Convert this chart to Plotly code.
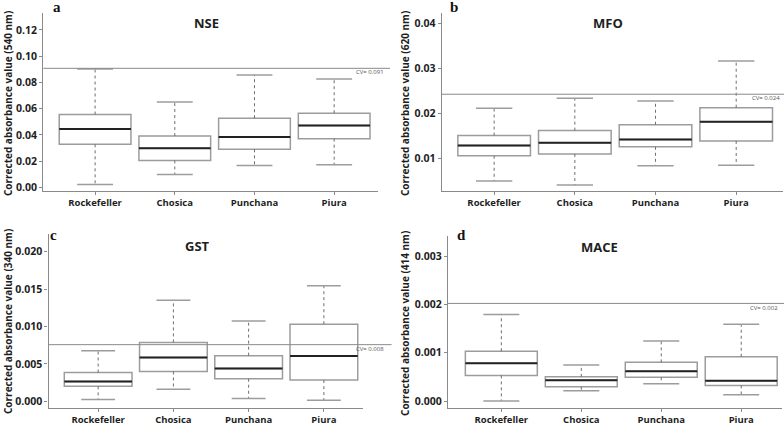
import plotly.graph_objects as go

# ---------------- data ----------------
categories = ["Rockefeller", "Chosica", "Punchana", "Piura"]

nse_lower = [0.0023, 0.0100, 0.0168, 0.0174]
nse_q1 = [0.0329, 0.0206, 0.0291, 0.0372]
nse_median = [0.0445, 0.0299, 0.0385, 0.0472]
nse_q3 = [0.0556, 0.0392, 0.0528, 0.0566]
nse_upper = [0.0903, 0.0651, 0.0857, 0.0827]
nse_cv = 0.0908
nse_ticks = [0.00, 0.02, 0.04, 0.06, 0.08, 0.10, 0.12]

mfo_lower = [0.0050, 0.0041, 0.0084, 0.0085]
mfo_q1 = [0.0106, 0.0110, 0.0126, 0.0139]
mfo_median = [0.0129, 0.0135, 0.0142, 0.0182]
mfo_q3 = [0.0151, 0.0162, 0.0175, 0.0213]
mfo_upper = [0.0212, 0.0234, 0.0228, 0.0317]
mfo_cv = 0.0243
mfo_ticks = [0.01, 0.02, 0.03, 0.04]

gst_lower = [0.00022, 0.00159, 0.00035, 0.00013]
gst_q1 = [0.00199, 0.00398, 0.00301, 0.00283]
gst_median = [0.00265, 0.00584, 0.00438, 0.00606]
gst_q3 = [0.00385, 0.00787, 0.00610, 0.01031]
gst_upper = [0.00677, 0.01350, 0.01075, 0.01544]
gst_cv = 0.00757
gst_ticks = [0.000, 0.005, 0.010, 0.015, 0.020]

mace_lower = [0.0, 0.000213, 0.000356, 0.000131]
mace_q1 = [0.00053, 0.000295, 0.00049, 0.000322]
mace_median = [0.00078, 0.00043, 0.000615, 0.000418]
mace_q3 = [0.00103, 0.00050, 0.00080, 0.000916]
mace_upper = [0.00179, 0.000746, 0.00124, 0.00159]
mace_cv = 0.00202
mace_ticks = [0.000, 0.001, 0.002, 0.003]

W, H = 784, 435


def px(x):
    return x / W


def py(y):
    return 1 - y / H


panels = [
    dict(s="", title="NSE", letter="a", nm="540",
         lower=nse_lower, q1=nse_q1, med=nse_median, q3=nse_q3, upper=nse_upper,
         cv=nse_cv, ticks=nse_ticks, fmt=".2f",
         xdom=[px(43.3), px(378)], ydom=[py(192.3), py(13.3)],
         xr=[-0.65, 3.55], yr=[-0.0023, 0.1328],
         title_xy=(207, 23), letter_xy=(57, 7), ytitle_xy=(8, 105),
         cv_xy=(386, 73), cv_x1=1.036),
    dict(s="2", title="MFO", letter="b", nm="620",
         lower=mfo_lower, q1=mfo_q1, med=mfo_median, q3=mfo_q3, upper=mfo_upper,
         cv=mfo_cv, ticks=mfo_ticks, fmt=".2f",
         xdom=[px(441.7), px(783)], ydom=[py(192.7), py(13)],
         xr=[-0.65, 3.58], yr=[0.00278, 0.0424],
         title_xy=(608, 23), letter_xy=(454, 7), ytitle_xy=(405, 105),
         cv_xy=(782, 99), cv_x1=1.003),
    dict(s="3", title="GST", letter="c", nm="340",
         lower=gst_lower, q1=gst_q1, med=gst_median, q3=gst_q3, upper=gst_upper,
         cv=gst_cv, ticks=gst_ticks, fmt=".3f",
         xdom=[px(48.5), px(363)], ydom=[py(411.3), py(236)],
         xr=[-0.66, 3.52], yr=[-0.00084, 0.0224],
         title_xy=(197.5, 248), letter_xy=(54, 237), ytitle_xy=(8, 325),
         cv_xy=(386, 352), cv_x1=1.091),
    dict(s="4", title="MACE", letter="d", nm="414",
         lower=mace_lower, q1=mace_q1, med=mace_median, q3=mace_q3, upper=mace_upper,
         cv=mace_cv, ticks=mace_ticks, fmt=".3f",
         xdom=[px(448), px(782)], ydom=[py(411.3), py(238)],
         xr=[-0.667, 3.51], yr=[-0.000135, 0.00342],
         title_xy=(599, 249), letter_xy=(461.5, 237), ytitle_xy=(405, 327),
         cv_xy=(780, 311), cv_x1=1.006),
]

BOX_W = 0.9
CAP_W = 0.45
positions = list(range(len(categories)))

fig = go.Figure()
annotations = []
shapes = []
layout_axes = {}

TXT = "#1e1e1e"
AXC = "#8a8a8a"
FONT = "Open Sans"

for p in panels:
    s = p["s"]
    xa, ya = "x" + s, "y" + s

    # boxes (no whiskers -> fences at the quartiles)
    fig.add_trace(go.Box(
        x=positions, q1=p["q1"], median=p["med"], q3=p["q3"],
        lowerfence=p["q1"], upperfence=p["q3"],
        width=BOX_W, whiskerwidth=0, boxpoints=False,
        line=dict(color="#9c9c9c", width=1.5), fillcolor="white",
        xaxis=xa, yaxis=ya, showlegend=False, hoverinfo="skip"))

    wx, wy, cx, cy, mx, my = [], [], [], [], [], []
    for i in positions:
        wx += [i, i, None, i, i, None]
        wy += [p["q3"][i], p["upper"][i], None, p["q1"][i], p["lower"][i], None]
        cx += [i - CAP_W / 2, i + CAP_W / 2, None, i - CAP_W / 2, i + CAP_W / 2, None]
        cy += [p["upper"][i], p["upper"][i], None, p["lower"][i], p["lower"][i], None]
        mx += [i - BOX_W / 2, i + BOX_W / 2, None]
        my += [p["med"][i], p["med"][i], None]

    fig.add_trace(go.Scatter(x=wx, y=wy, mode="lines",
                             line=dict(color="#6e6e6e", width=1, dash="dot"),
                             xaxis=xa, yaxis=ya, showlegend=False, hoverinfo="skip"))
    fig.add_trace(go.Scatter(x=cx, y=cy, mode="lines",
                             line=dict(color="#9c9c9c", width=1.5),
                             xaxis=xa, yaxis=ya, showlegend=False, hoverinfo="skip"))
    fig.add_trace(go.Scatter(x=mx, y=my, mode="lines",
                             line=dict(color="#222222", width=2),
                             xaxis=xa, yaxis=ya, showlegend=False, hoverinfo="skip"))

    layout_axes["xaxis" + s] = dict(
        domain=p["xdom"], range=p["xr"], anchor=ya,
        tickvals=positions, ticktext=categories,
        showline=True, linecolor=AXC, linewidth=1.2,
        ticks="outside", ticklen=3, tickcolor=AXC, tickwidth=1,
        showgrid=False, zeroline=False,
        tickfont=dict(family=FONT, size=9.5, color=TXT, weight="bold"))
    layout_axes["yaxis" + s] = dict(
        domain=p["ydom"], range=p["yr"], anchor=xa,
        tickvals=p["ticks"], tickformat=p["fmt"],
        showline=True, linecolor=AXC, linewidth=1.2,
        ticks="outside", ticklen=3, tickcolor=AXC, tickwidth=1,
        showgrid=False, zeroline=False,
        tickfont=dict(family=FONT, size=10.5, color=TXT, weight="bold"))

    # CV reference line
    shapes.append(dict(type="line", xref=xa + " domain", yref=ya,
                       x0=0, x1=p["cv_x1"], y0=p["cv"], y1=p["cv"],
                       line=dict(color="#8a8a8a", width=1)))

    annotations += [
        dict(text=p["title"], x=px(p["title_xy"][0]), y=py(p["title_xy"][1]),
             xref="paper", yref="paper", showarrow=False,
             xanchor="center", yanchor="middle",
             font=dict(family=FONT, size=13, color=TXT, weight="bold")),
        dict(text=p["letter"], x=px(p["letter_xy"][0]), y=py(p["letter_xy"][1]),
             xref="paper", yref="paper", showarrow=False,
             xanchor="center", yanchor="middle",
             font=dict(family="Liberation Serif", size=15, color="#111", weight="bold")),
        dict(text=f"Corrected absorbance value ({p['nm']} nm)",
             x=px(p["ytitle_xy"][0]), y=py(p["ytitle_xy"][1]),
             xref="paper", yref="paper", showarrow=False, textangle=-90,
             xanchor="center", yanchor="middle",
             font=dict(family=FONT, size=10, color=TXT, weight="bold")),
        dict(text=f"CV= {p['cv']:.3f}", x=px(p["cv_xy"][0]), y=py(p["cv_xy"][1]),
             xref="paper", yref="paper", showarrow=False,
             xanchor="right", yanchor="middle",
             font=dict(family=FONT, size=6, color="#555")),
    ]

fig.update_layout(
    width=W, height=H, margin=dict(l=0, r=0, t=0, b=0),
    paper_bgcolor="white", plot_bgcolor="white",
    annotations=annotations, shapes=shapes, **layout_axes)

fig.write_html(
    "out.html",
    config={"displayModeBar": False},
    post_script="document.body.style.margin='0';document.body.style.overflow='hidden';")
